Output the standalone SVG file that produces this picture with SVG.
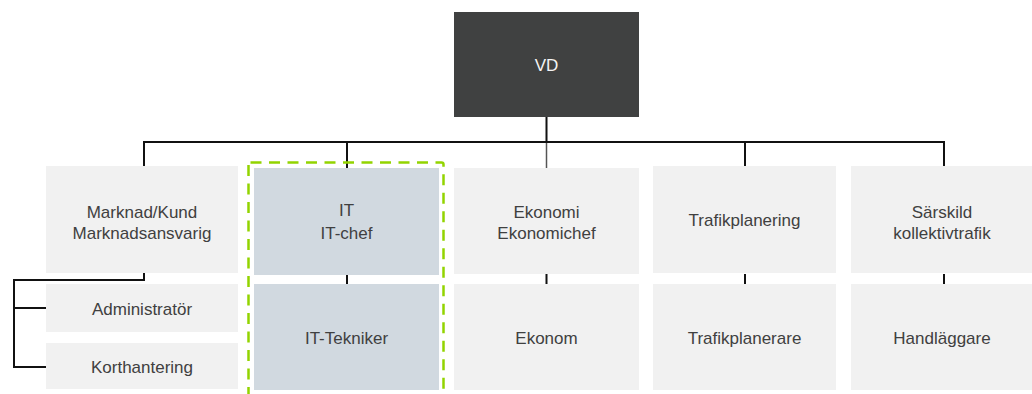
<svg xmlns="http://www.w3.org/2000/svg" width="1032" height="394" viewBox="0 0 1032 394">
<style>
.box{fill:#f1f1f1}
.it{fill:#d1d9e0}
.lbl{font-family:"Liberation Sans",Arial,sans-serif;font-size:17px;fill:#404040;text-anchor:middle}
.vd{fill:#f4f4f4}
.conn{fill:none;stroke:#111;stroke-width:2}
</style>
<rect width="1032" height="394" fill="#ffffff"/>
<g id="connectors">
<path class="conn" d="M546.5 117V142M144 167V142H944V167M347 142V168M745 142V166"/>
<path d="M546.5 143V168" fill="none" stroke="#555" stroke-width="1.5"/>
<path class="conn" d="M347 275V284M546.5 274V284M745 274V284M944 274V284"/>
<path class="conn" d="M144 273V280H14V367H46M14 308H46"/>
</g>
<g id="vd"><rect x="454" y="12" width="185" height="105" fill="#404141"/><text class="lbl vd" x="546.5" y="70.5">VD</text></g>
<g id="marknad"><rect class="box" x="46" y="166" width="192" height="107"/><text class="lbl" x="142" y="217.5">Marknad/Kund</text><text class="lbl" x="142" y="239">Marknadsansvarig</text></g>
<g id="administrator"><rect class="box" x="46" y="284" width="192" height="48"/><text class="lbl" x="142" y="314.5">Administratör</text></g>
<g id="korthantering"><rect class="box" x="46" y="343" width="192" height="46"/><text class="lbl" x="142" y="373">Korthantering</text></g>
<g id="it"><rect class="it" x="254" y="168" width="185" height="107"/><text class="lbl" x="346.5" y="216">IT</text><text class="lbl" x="346.5" y="239">IT-chef</text></g>
<g id="it-tekniker"><rect class="it" x="254" y="284" width="185" height="106"/><text class="lbl" x="346.5" y="344">IT-Tekniker</text></g>
<g id="it-group"><rect x="248.5" y="162.5" width="195" height="240" rx="2" fill="none" stroke="#92d400" stroke-width="2.5" stroke-dasharray="11 7.5"/></g>
<g id="ekonomi"><rect class="box" x="454" y="168" width="185" height="106"/><text class="lbl" x="546.5" y="217.5">Ekonomi</text><text class="lbl" x="546.5" y="239">Ekonomichef</text></g>
<g id="ekonom"><rect class="box" x="454" y="284" width="185" height="106"/><text class="lbl" x="546.5" y="344">Ekonom</text></g>
<g id="trafikplanering"><rect class="box" x="653" y="166" width="183" height="107"/><text class="lbl" x="744.5" y="226">Trafikplanering</text></g>
<g id="trafikplanerare"><rect class="box" x="653" y="284" width="183" height="106"/><text class="lbl" x="744.5" y="344">Trafikplanerare</text></g>
<g id="sarskild"><rect class="box" x="851" y="166" width="183" height="107"/><text class="lbl" x="942" y="217.5">Särskild</text><text class="lbl" x="942" y="239">kollektivtrafik</text></g>
<g id="handlaggare"><rect class="box" x="851" y="284" width="183" height="106"/><text class="lbl" x="942" y="344">Handläggare</text></g>
</svg>
